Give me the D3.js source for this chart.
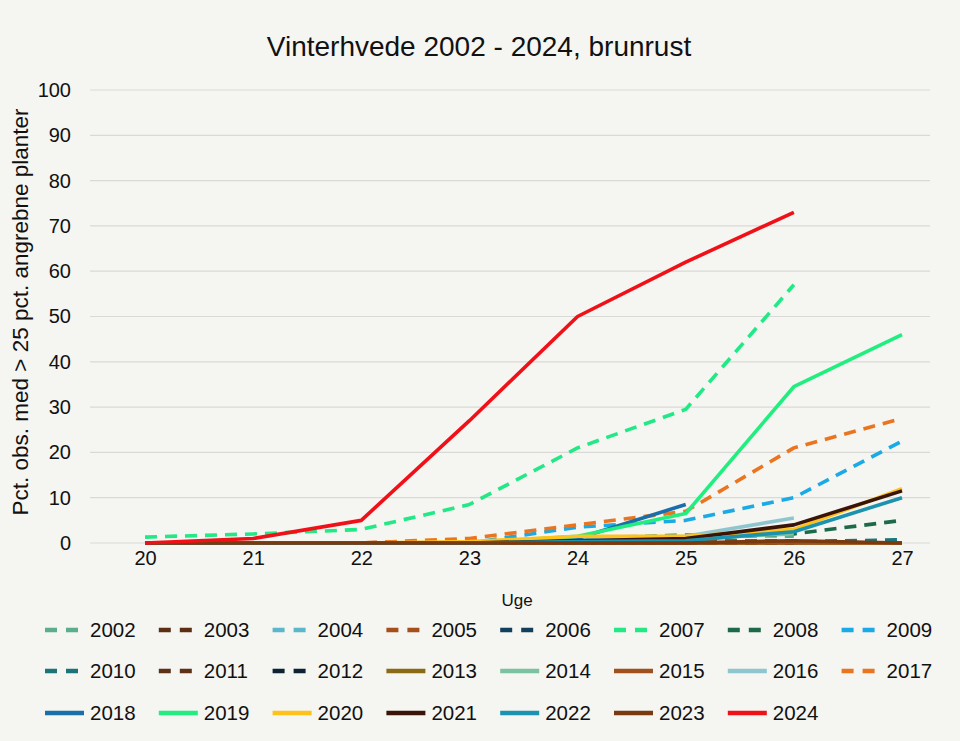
<!DOCTYPE html>
<html><head><meta charset="utf-8">
<script src="https://cdn.jsdelivr.net/npm/d3@7"></script>
<style>
html,body{margin:0;padding:0;background:#F5F5F1;}
svg{display:block;}
text{font-family:"Liberation Sans",Arial,sans-serif;fill:#111;}
</style></head><body>
<svg id="chart" width="960" height="741"></svg>
<script>
const weeks = [20, 21, 22, 23, 24, 25, 26, 27];
const yTicks = [0, 10, 20, 30, 40, 50, 60, 70, 80, 90, 100];
const years = ["2002","2003","2004","2005","2006","2007","2008","2009","2010","2011","2012","2013","2014","2015","2016","2017","2018","2019","2020","2021","2022","2023","2024"];
const colors = ["#5BAE8B","#5C2E14","#5BB7C9","#A5501C","#123F5C","#22E886","#1D6A48","#1AAAE5","#1A7478","#5E3018","#0D2233","#8A6A14","#7BC2A0","#A0501C","#8EC6CF","#EA7520","#1A6EAA","#22EE80","#FFC21A","#3A1408","#1C93AE","#7A3A10","#F01018"];
const dashed = [true,true,true,true,true,true,true,true,true,true,true,false,false,false,false,true,false,false,false,false,false,false,false];

const v2002 = [0, 0, 0, 0, 1, 1.8, 1.5, null];
const v2003 = [0, 0, 0, 0, 0, 0, 0, null];
const v2004 = [0, 0, 0, 0, 0.3, 0.5, 0.5, null];
const v2005 = [0, 0, 0, 0.5, 0.5, 0.5, 0.5, null];
const v2006 = [0, 0, 0, 0, 0, 0, 0, null];
const v2007 = [1.3, 2, 3, 8.5, 21, 29.5, 57, null];
const v2008 = [0, 0, 0, 0, 0, 1, 2, 5];
const v2009 = [0, 0, 0, 0, 3.5, 5, 10, 22.5];
const v2010 = [0, 0, 0, 0, 0, 0, 0.3, 0.7];
const v2011 = [0, 0, 0, 0, 0, 0, 0, null];
const v2012 = [0, 0, 0, 0, 0, 0, 0, null];
const v2013 = [0, 0, 0, 0, 0, 0, 0, 0];
const v2014 = [0, 0, 0, 0, 0.5, 1, 2, null];
const v2015 = [0, 0, 0, 0, 0, 0, 0, 0];
const v2016 = [0, 0, 0, 0, 0.5, 1.5, 5.5, null];
const v2017 = [0, 0, 0, 1, 4, 7, 21, 27.5];
const v2018 = [0, 0, 0, 0, 1, 8.5, null, null];
const v2019 = [0, 0, 0, 0, 1.5, 6.5, 34.5, 46];
const v2020 = [0, 0, 0, 0.3, 1.5, 1.5, 3, 12];
const v2021 = [0, 0, 0, 0, 0.5, 1, 4, 11.5];
const v2022 = [0, 0, 0, 0, 0.3, 0.5, 2.5, 10];
const v2023 = [0, 0, 0, 0, 0, 0, 0.5, 0];
const v2024 = [0, 1, 5, 27, 50, 62, 73, null];
const values = [v2002,v2003,v2004,v2005,v2006,v2007,v2008,v2009,v2010,v2011,v2012,v2013,v2014,v2015,v2016,v2017,v2018,v2019,v2020,v2021,v2022,v2023,v2024];

const svg = d3.select("#chart");
const plotL = 90, plotR = 930;
const x = d3.scaleLinear().domain([20, 27]).range([145, 902]);
const y = d3.scaleLinear().domain([0, 100]).range([543, 90]);

// gridlines
svg.append("g").selectAll("line").data(yTicks).join("line")
  .attr("x1", plotL).attr("x2", plotR)
  .attr("y1", d => y(d)).attr("y2", d => y(d))
  .attr("stroke", "#D9D9D6").attr("stroke-width", 1.2);

// y axis
const yAxis = svg.append("g").attr("transform", "translate(71,0)")
  .call(d3.axisLeft(y).tickValues(yTicks).tickSize(0).tickPadding(0));
yAxis.select(".domain").remove();
yAxis.selectAll("text").style("font-size", "20px").style("font-family", "'Liberation Sans',Arial,sans-serif").attr("fill", "#111");

// x axis
const xAxis = svg.append("g").attr("transform", "translate(0,559)")
  .call(d3.axisBottom(x).tickValues(weeks).tickSize(0).tickPadding(0).tickFormat(d3.format("d")));
xAxis.select(".domain").remove();
xAxis.selectAll("text").style("font-size", "20px").style("font-family", "'Liberation Sans',Arial,sans-serif").attr("fill", "#111").attr("dy", "0.32em").attr("y", 0);

// lines
const line = d3.line().defined(d => d.v !== null).x(d => x(d.w)).y(d => y(d.v));
const series = years.map((yr, i) => ({yr, color: colors[i], dashed: dashed[i], pts: weeks.map((w, j) => ({w, v: values[i][j]}))}));
svg.append("g").selectAll("path").data(series).join("path")
  .attr("d", d => line(d.pts))
  .attr("fill", "none")
  .attr("stroke", d => d.color)
  .attr("stroke-width", 3.6)
  .attr("stroke-linejoin", "round")
  .attr("stroke-dasharray", d => d.dashed ? "12,8" : null);

// title
svg.append("text").attr("x", 479).attr("y", 56).attr("text-anchor", "middle")
  .style("font-size", "28px").text("Vinterhvede 2002 - 2024, brunrust");

// axis titles
svg.append("text").attr("transform", "translate(28,312) rotate(-90)").attr("text-anchor", "middle")
  .style("font-size", "22.5px").text("Pct. obs. med > 25 pct. angrebne planter");
svg.append("text").attr("x", 517).attr("y", 606).attr("text-anchor", "middle")
  .style("font-size", "17px").text("Uge");

// legend
const lg = svg.append("g");
const items = lg.selectAll("g").data(series).join("g")
  .attr("transform", (d, i) => `translate(${45 + (i % 8) * 113.8},${[630, 671, 713][Math.floor(i / 8)]})`);
items.append("line").attr("x1", 0).attr("x2", 39).attr("y1", 0).attr("y2", 0)
  .attr("stroke", d => d.color).attr("stroke-width", 4.5)
  .attr("stroke-dasharray", d => d.dashed ? "12,9" : null);
items.append("text").attr("x", 45).attr("y", 0).attr("dy", "0.35em")
  .style("font-size", "20.5px").text(d => d.yr);
</script>
</body></html>
